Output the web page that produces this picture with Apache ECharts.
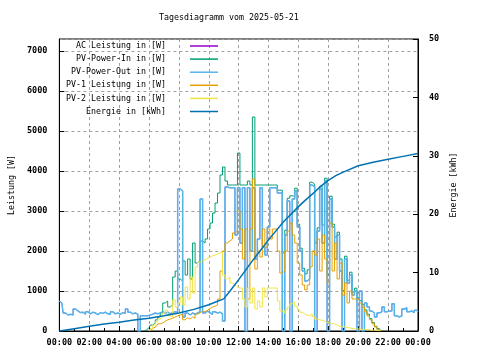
<!DOCTYPE html>
<html><head><meta charset="utf-8">
<script src="https://cdn.jsdelivr.net/npm/echarts@6/dist/echarts.min.js"></script>
<style>html,body{margin:0;padding:0;background:#fff}#c{width:480px;height:360px}</style>
</head><body><div id="c"></div>
<script>
// ---------- data ----------
const chartTitle = 'Tagesdiagramm vom 2025-05-21';
const seriesNames = ['AC Leistung in [W]', 'PV-Power-In in [W]', 'PV-Power-Out in [W]',
                     'PV-1 Leistung in [W]', 'PV-2 Leistung in [W]', 'Energie in [kWh]'];
const xTickLabels = ['00:00','02:00','04:00','06:00','08:00','10:00','12:00',
                     '14:00','16:00','18:00','20:00','22:00','00:00'];
const leftAxisName = 'Leistung [W]';
const rightAxisName = 'Energie [kWh]';
const sampleMinutes = 10;

// PV-Power-Out, 00:00 .. 24:00 every 10 min
const pvOutStart = '00:00';
const pvOut = [
  750, 700, 450, 400, 420, 400, 550, 500, 460, 470,
  420, 480, 430, 470, 450, 410, 460, 440, 470, 430,
  420, 480, 430, 450, 420, 460, 440, 550, 470, 430,
  450, 420, 0, 380,
  380, 380, 400, 420, 450, 430, 450, 480, 450, 470,
  430, 460, 480, 470, 3550, 3500, 350, 450, 400, 450,
  420, 450, 480, 3300, 450, 500, 450, 420, 480, 450,
  470, 430, 250, 3600, 3580, 3580, 3580, 2400, 3580, 2200,
  3580, 0, 3580, 2000, 3580, 1800, 2300, 3580, 2100, 1900,
  2600, 3580, 3580, 3580, 3450, 3450, 0, 2400, 3250, 0,
  3300, 3500, 2600, 2000, 1500, 1250, 1300, 3650, 3600, 0,
  2500, 3550, 2200, 3750, 0, 3300, 2600, 1800, 2400, 1500,
  0, 1800, 1200, 1400, 900, 1000, 0, 1000, 0, 700,
  600, 500, 450, 350, 450, 480, 600, 480, 500,
  500, 680, 380, 350, 380, 550, 580, 480, 500, 460, 520, 480
];
// AC Leistung: coincides with PV-Power-Out (drawn underneath it)
const acStart = '00:00';
const acPower = pvOut;

// PV-Power-In from 05:40
const pvInStart = '05:40';
const pvIn = [
  0, 30, 80, 150, 200, 280, 350, 450, 700, 750,
  600, 650, 1350, 1500, 1300, 1250, 1750, 1400, 1800, 1300,
  2200, 1700, 1750, 2250, 2200, 2300, 2550, 2700, 2950, 3200,
  3450, 3900, 4100, 3750, 3650, 3650, 3650, 3650, 4450, 3650,
  3650, 3650, 3750, 3650, 5350, 3650, 3650, 3650, 3650, 3650,
  3650, 3650, 3650, 3650, 3520, 3520, 1950, 2520, 3320, 3380,
  3370, 3570, 2670, 2070, 1570, 1430, 1530, 3720, 3670, 2200,
  2580, 3620, 2650, 3820, 1400, 3370, 2670, 2350, 2470, 1800,
  1010, 1870, 1270, 1470, 970, 1070, 830, 760, 660, 530,
  420, 310, 210, 120, 60, 10
];

// PV-1 from 06:00
const pv1Start = '06:00';
const pv1 = [
  0, 40, 80, 120, 180, 200, 240, 280, 300, 320,
  350, 380, 400, 420, 280, 330, 300, 350, 320, 420,
  450, 500, 480, 520, 560, 600, 620, 650, 800, 1500,
  2000, 2200, 2250, 2300, 2450, 2500, 3000, 2550, 1800, 2550,
  800, 2550, 3800, 1550, 2000, 1850, 2550, 2100, 2550, 2300,
  2550, 2550, 2000, 1450, 1500, 2000, 2500, 2700, 2400, 2200,
  1700, 1400, 1150, 1030, 1150, 1600, 2000, 1900, 2300, 1500,
  2400, 1800, 1200, 2700, 1500, 2200, 1300, 1700, 900, 1200,
  700, 1000, 800, 800, 780, 700, 600, 480, 380, 280,
  180, 100, 40, 0
];

// PV-2 from 06:00
const pv2Start = '06:00';
const pv2 = [
  0, 60, 150, 230, 300, 350, 450, 520, 380, 350,
  780, 600, 700, 850, 650, 1100, 800, 1350, 950, 1600,
  1720, 1750, 1780, 1820, 1850, 1880, 1900, 1920, 1950, 1980,
  1400, 1300, 1350, 1200, 1150, 1100, 1075, 1075, 800, 600,
  1075, 700, 1075, 550, 750, 600, 1075, 850, 1075, 1075,
  1075, 1075, 750, 500, 450, 520, 600, 680, 730, 620,
  530, 470, 420, 400, 380, 430, 360, 300, 280, 270,
  250, 220, 200, 190, 180, 150, 120, 100, 110, 90,
  80, 60, 60, 50, 50, 40, 40, 30, 30, 20,
  20, 10, 10, 0
];

// Energie (kWh, right axis)
const energyTimes = ['00:00','01:00','02:00','03:00','04:00','05:00','06:00','07:00','08:00',
  '09:00','10:00','10:30','11:00','11:30','12:00','13:00','14:00','15:00','16:00','16:30',
  '17:00','17:30','18:00','18:30','19:00','20:00','21:00','22:00','23:00','24:00'];
const energyValues = [0, 0.4, 0.8, 1.2, 1.5, 1.9, 2.2, 2.6, 3.1,
  3.7, 4.5, 5.0, 5.5, 7.1, 8.8, 12.3, 15.6, 18.7, 21.3, 22.5,
  23.6, 24.8, 25.8, 26.6, 27.2, 28.3, 28.9, 29.4, 29.9, 30.4];

// ---------- chart ----------
function hours(t) { const p = t.split(':'); return +p[0] + p[1] / 60; }
function sampled(start, arr) {
  const h0 = hours(start);
  return arr.map((v, i) => [h0 + i * sampleMinutes / 60, v]);
}
const colors = ['#9400d3', '#009e73', '#56b4e9', '#e69f00', '#f0e442', '#0072b2'];
const widths = [0.6, 1, 1.5, 1, 1, 1.5];
const FONT = 'DejaVu Sans Mono';
const tick = { fontFamily: FONT, fontSize: 8.5, color: '#000', fontWeight: 'bold' };
const grayDash = { color: '#a0a0a0', type: [3, 3], width: 1 };

const powerData = [
  sampled(acStart, acPower), sampled(pvInStart, pvIn), sampled(pvOutStart, pvOut),
  sampled(pv1Start, pv1), sampled(pv2Start, pv2)
];
const series = powerData.map((d, i) => ({
  name: seriesNames[i], type: 'line', data: d, step: 'middle',
  yAxisIndex: 0, symbol: 'none', lineStyle: { width: widths[i], color: colors[i] },
  itemStyle: { color: colors[i] }, silent: true
}));
series.push({
  name: seriesNames[5], type: 'line', yAxisIndex: 1, symbol: 'none',
  data: energyTimes.map((t, i) => [hours(t), energyValues[i]]),
  lineStyle: { width: widths[5], color: colors[5] }, itemStyle: { color: colors[5] }, silent: true
});

const legends = seriesNames.map((n, i) => ({
  data: [n], right: 262, top: 42 + i * 13.1, orient: 'horizontal', align: 'right',
  icon: 'rect', itemWidth: 28, itemHeight: 1.5, padding: 0, selectedMode: false,
  textStyle: { fontFamily: FONT, fontSize: 8.3, color: '#000', padding: [0, 19, 0, 0] }
}));

const chart = echarts.init(document.getElementById('c'), null, { renderer: 'canvas' });
chart.setOption({
  animation: false,
  backgroundColor: '#fff',
  title: { text: chartTitle, left: 154, top: 9,
    textStyle: { fontFamily: FONT, fontSize: 8.3, fontWeight: 'normal', color: '#000' } },
  grid: { left: 58, right: 62, top: 39, bottom: 29, show: true,
    borderColor: '#000', borderWidth: 1, backgroundColor: 'transparent' },
  legend: legends,
  xAxis: {
    type: 'value', min: 0, max: 24, interval: 2,
    axisLine: { lineStyle: { color: '#000' } },
    axisTick: { inside: true, length: 5, lineStyle: { color: '#000' } },
    minorTick: { show: true, splitNumber: 2, length: 3, lineStyle: { color: '#000' } },
    splitLine: { show: true, lineStyle: grayDash },
    axisLabel: { ...tick, margin: 7, formatter: v => xTickLabels[Math.round(v / 2)] }
  },
  yAxis: [{
    type: 'value', min: 0, max: 7300, interval: 1000,
    name: leftAxisName, nameLocation: 'middle', nameGap: 42, nameRotate: 90,
    nameTextStyle: { fontFamily: FONT, fontSize: 8.3, color: '#000' },
    axisLine: { show: true, lineStyle: { color: '#000' } },
    axisTick: { inside: true, length: 5, lineStyle: { color: '#000' } },
    splitLine: { show: true, lineStyle: grayDash },
    axisLabel: { ...tick, margin: 12, showMaxLabel: false,
      formatter: v => (v % 1000 === 0 ? String(v) : '') }
  }, {
    type: 'value', min: 0, max: 50, interval: 10, position: 'right',
    name: rightAxisName, nameLocation: 'middle', nameGap: 30, nameRotate: 90,
    nameTextStyle: { fontFamily: FONT, fontSize: 8.3, color: '#000' },
    axisLine: { show: true, lineStyle: { color: '#000' } },
    axisTick: { inside: true, length: 5, lineStyle: { color: '#000' } },
    splitLine: { show: false },
    axisLabel: { ...tick, margin: 11 }
  }],
  series: series
});
</script></body></html>
